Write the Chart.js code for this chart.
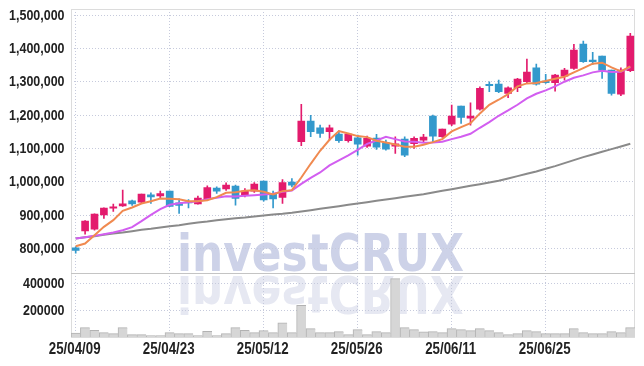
<!DOCTYPE html>
<html>
<head>
<meta charset="utf-8">
<script src="https://cdn.jsdelivr.net/npm/chart.js@4.4.1/dist/chart.umd.min.js"></script>
<style>
  html, body { margin: 0; padding: 0; background: #fff; }
  #wrap { position: relative; width: 644px; height: 366px; }
</style>
</head>
<body>
<div id="wrap"><canvas id="grafico"></canvas></div>
<script>
// ======================= DATA =======================
const dates = [
    '25/04/09', '25/04/10', '25/04/11', '25/04/14', '25/04/15', '25/04/16', '25/04/17', '25/04/18', '25/04/21', '25/04/22',
    '25/04/23', '25/04/24', '25/04/25', '25/04/28', '25/04/29', '25/04/30', '25/05/02', '25/05/07', '25/05/08', '25/05/09',
    '25/05/12', '25/05/13', '25/05/14', '25/05/15', '25/05/16', '25/05/19', '25/05/20', '25/05/21', '25/05/22', '25/05/23',
    '25/05/26', '25/05/27', '25/05/28', '25/05/29', '25/05/30', '25/06/02', '25/06/04', '25/06/05', '25/06/09', '25/06/10',
    '25/06/11', '25/06/12', '25/06/13', '25/06/16', '25/06/17', '25/06/18', '25/06/19', '25/06/20', '25/06/23', '25/06/24',
    '25/06/25', '25/06/26', '25/06/27', '25/06/30', '25/07/01', '25/07/02', '25/07/03', '25/07/04', '25/07/07', '25/07/08',
];

const opens = [
    802000, 853000, 858000, 901000, 921000, 928000, 943000, 939000, 961000, 958000,
    972000, 937000, 940000, 934000, 949000, 981000, 979000, 987000, 960000, 972000,
    1002000, 965000, 953000, 999000, 1120000, 1182000, 1162000, 1150000, 1143000, 1123000,
    1132000, 1107000, 1131000, 1117000, 1107000, 1128000, 1114000, 1125000, 1197000, 1135000,
    1173000, 1227000, 1191000, 1218000, 1292000, 1293000, 1265000, 1282000, 1300000, 1342000,
    1302000, 1297000, 1317000, 1340000, 1413000, 1365000, 1377000, 1335000, 1263000, 1333000,
];
const highs = [
    805000, 884000, 904000, 922000, 933000, 975000, 945000, 963000, 967000, 972000,
    972000, 949000, 947000, 957000, 988000, 985000, 997000, 990000, 980000, 998000,
    1002000, 972000, 1007000, 1010000, 1232000, 1199000, 1170000, 1170000, 1153000, 1143000,
    1140000, 1137000, 1142000, 1125000, 1135000, 1135000, 1135000, 1142000, 1200000, 1158000,
    1230000, 1227000, 1237000, 1285000, 1300000, 1305000, 1285000, 1310000, 1368000, 1353000,
    1322000, 1322000, 1340000, 1412000, 1422000, 1388000, 1377000, 1335000, 1342000, 1445000,
];
const lows = [
    786000, 843000, 855000, 890000, 911000, 926000, 929000, 937000, 935000, 950000,
    926000, 905000, 922000, 933000, 948000, 965000, 974000, 930000, 955000, 968000,
    942000, 922000, 935000, 985000, 1108000, 1135000, 1133000, 1125000, 1118000, 1119000,
    1080000, 1103000, 1097000, 1095000, 1085000, 1075000, 1100000, 1120000, 1120000, 1133000,
    1168000, 1175000, 1170000, 1215000, 1270000, 1267000, 1252000, 1270000, 1295000, 1290000,
    1295000, 1272000, 1305000, 1337000, 1358000, 1352000, 1310000, 1260000, 1258000, 1330000,
];
const closes = [
    794000, 882000, 903000, 921000, 925000, 934000, 934000, 963000, 955000, 965000,
    926000, 929000, 937000, 951000, 983000, 972000, 990000, 950000, 972000, 993000,
    946000, 949000, 998000, 990000, 1182000, 1150000, 1145000, 1162000, 1123000, 1143000,
    1113000, 1130000, 1104000, 1098000, 1114000, 1080000, 1130000, 1134000, 1137000, 1158000,
    1197000, 1193000, 1197000, 1280000, 1288000, 1270000, 1282000, 1308000, 1329000, 1293000,
    1297000, 1320000, 1335000, 1395000, 1360000, 1360000, 1335000, 1265000, 1335000, 1437000,
];

// médias móveis
const ma5 = [
    807000, 815000, 840000, 865000, 885000, 913000, 923000, 935000, 942000, 950000,
    949000, 948000, 942000, 942000, 945000, 954000, 967000, 969000, 973000, 975000,
    970000, 962000, 972000, 975000, 1013000, 1054000, 1093000, 1126000, 1152000, 1145000,
    1137000, 1134000, 1123000, 1118000, 1112000, 1105000, 1105000, 1111000, 1119000, 1128000,
    1151000, 1164000, 1176000, 1205000, 1231000, 1246000, 1263000, 1286000, 1295000, 1296000,
    1302000, 1309000, 1315000, 1328000, 1341000, 1354000, 1357000, 1343000, 1331000, 1346000,
];
const ma10 = [
    830000, 834000, 838000, 843000, 848000, 855000, 864000, 882000, 901000, 918000,
    931000, 936000, 939000, 942000, 948000, 952000, 957000, 956000, 958000, 960000,
    962000, 964000, 970000, 974000, 994000, 1012000, 1028000, 1049000, 1064000, 1079000,
    1096000, 1114000, 1124000, 1135000, 1128000, 1121000, 1120000, 1117000, 1118000, 1120000,
    1128000, 1135000, 1144000, 1162000, 1179000, 1198000, 1214000, 1231000, 1250000, 1264000,
    1274000, 1286000, 1300000, 1312000, 1319000, 1328000, 1333000, 1329000, 1330000, 1344000,
];
const ma60 = [
    830000, 834000, 837000, 841000, 845000, 848000, 852000, 856000, 859000, 863000,
    867000, 870000, 874000, 878000, 881000, 885000, 888000, 891000, 893000, 896000,
    899000, 902000, 904000, 907000, 911000, 915000, 919000, 923000, 927000, 931000,
    935000, 939000, 943000, 947000, 951000, 955000, 959000, 963000, 968000, 973000,
    978000, 983000, 988000, 993000, 998000, 1003000, 1010000, 1017000, 1024000, 1031000,
    1039000, 1047000, 1056000, 1065000, 1074000, 1082000, 1090000, 1098000, 1106000, 1114000,
];

const volumes = [
    30000, 70000, 50000, 33000, 25000, 70000, 18000, 18000, 10000, 10000,
    33000, 25000, 25000, 10000, 43000, 10000, 25000, 70000, 50000, 33000,
    48000, 33000, 106000, 33000, 237000, 63000, 33000, 33000, 40000, 18000,
    55000, 18000, 40000, 33000, 437000, 70000, 55000, 38000, 40000, 33000,
    63000, 55000, 48000, 63000, 48000, 33000, 18000, 25000, 48000, 40000,
    25000, 25000, 25000, 63000, 33000, 25000, 25000, 40000, 33000, 70000,
];

const priceTicks = [800000, 900000, 1000000, 1100000, 1200000, 1300000, 1400000, 1500000];
const volumeTicks = [200000, 400000];

// ======================= ESTILO =======================
const UP = '#e31b6d';
const DOWN = '#3399cc';
const GRID = '#c6cadc';
const LABEL_FONT = "'Liberation Sans', Arial, sans-serif";

const candleColor = (c) => (closes[c.dataIndex] >= opens[c.dataIndex] ? UP : DOWN);

// marca d'água com reflexo
const watermark = {
    id: 'watermark',
    beforeDraw(chart) {
        const { ctx } = chart;
        const base = chart.scales.y.bottom;
        ctx.save();
        ctx.font = "bold 51px 'DejaVu Sans'";
        ctx.textBaseline = 'alphabetic';
        ctx.fillStyle = '#cdd2e8';
        ctx.fillText('investCRUX', 177, base - 2, 287);
        ctx.translate(0, base * 2 + 1);
        ctx.scale(1, -1);
        ctx.fillStyle = '#e6e8f2';
        ctx.fillText('investCRUX', 177, base - 2, 287);
        ctx.restore();
    },
};

// moldura e divisória dos painéis
const frame = {
    id: 'frame',
    beforeDatasetsDraw(chart) {
        const { ctx, chartArea } = chart;
        ctx.save();
        ctx.strokeStyle = '#dcdcdc';
        ctx.lineWidth = 1;
        ctx.strokeRect(Math.round(chartArea.left) + 0.5, Math.round(chartArea.top) + 0.5,
            Math.round(chartArea.right - chartArea.left) - 1, Math.round(chartArea.bottom - chartArea.top));
        const sep = Math.round(chart.scales.y.bottom) + 0.5;
        ctx.strokeStyle = '#c4c4c4';
        ctx.beginPath();
        ctx.moveTo(chartArea.left, sep);
        ctx.lineTo(chartArea.right, sep);
        ctx.stroke();
        ctx.restore();
    },
};

// rótulos dos eixos em fonte estreita (texto comprimido na horizontal)
function drawNarrow(ctx, text, x, y, size, squeeze, align) {
    ctx.save();
    ctx.font = `bold ${size}px ${LABEL_FONT}`;
    ctx.textAlign = align;
    ctx.textBaseline = 'middle';
    ctx.translate(x, y);
    ctx.scale(squeeze, 1);
    ctx.fillText(text, 0, 0);
    ctx.restore();
}

const axisLabels = {
    id: 'axisLabels',
    afterDraw(chart) {
        const { ctx, scales } = chart;
        ctx.save();
        ctx.fillStyle = '#222';
        ['y', 'yv'].forEach((id) => {
            const sc = scales[id];
            sc.ticks.forEach((t) => {
                drawNarrow(ctx, t.label, sc.right - 6.5, sc.getPixelForValue(t.value) + 0.5, 15, 0.83, 'right');
            });
        });
        const sx = scales.x;
        sx.ticks.forEach((t, i) => {
            if (!t.label) return;
            drawNarrow(ctx, t.label, sx.getPixelForTick(i) - 1, sx.top + 12.5, 16, 0.83, 'center');
        });
        ctx.restore();
    },
};

function montarGrafico() {
    const canvas = document.getElementById('grafico');
    if (!canvas || typeof Chart === 'undefined') return;

    new Chart(canvas.getContext('2d'), {
        data: {
            labels: dates,
            datasets: [
                { type: 'line', label: 'MA5', data: ma5, yAxisID: 'y', borderColor: '#f08a50', borderWidth: 2, pointRadius: 0, order: 1 },
                { type: 'line', label: 'MA10', data: ma10, yAxisID: 'y', borderColor: '#d25ef0', borderWidth: 2, pointRadius: 0, order: 1 },
                { type: 'line', label: 'MA60', data: ma60, yAxisID: 'y', borderColor: '#8a8a8a', borderWidth: 2, pointRadius: 0, order: 1 },
                {
                    type: 'bar', label: 'wick', yAxisID: 'y', order: 2, grouped: false,
                    data: lows.map((l, i) => [l, highs[i]]),
                    backgroundColor: candleColor, barThickness: 1,
                },
                {
                    type: 'bar', label: 'body', yAxisID: 'y', order: 2, grouped: false,
                    data: opens.map((o, i) => [o, closes[i]]),
                    backgroundColor: candleColor, barThickness: 7,
                },
                {
                    type: 'bar', label: 'volume', yAxisID: 'yv', order: 3, grouped: false,
                    data: volumes,
                    backgroundColor: '#d6d6d6', borderColor: '#b2b2b2',
                    borderWidth: { top: 1, left: 1, right: 0, bottom: 0 },
                    barPercentage: 1, categoryPercentage: 1,
                },
            ],
        },
        options: {
            responsive: true,
            maintainAspectRatio: false,
            animation: false,
            layout: { padding: { top: 9, right: 9, left: 0, bottom: 0 } },
            plugins: { legend: { display: false }, tooltip: { enabled: false } },
            scales: {
                x: {
                    offset: true,
                    grid: {
                        offset: false,
                        drawTicks: false,
                        color: (c) => (c.index % 10 === 0 ? GRID : 'transparent'),
                    },
                    border: { display: false, dash: [1, 2] },
                    ticks: {
                        display: false,
                        autoSkip: false,
                        maxRotation: 0,
                        callback: (v, i) => (i % 10 === 0 ? dates[i] : ''),
                    },
                    afterFit: (axis) => { axis.height = 29; },
                },
                yv: {
                    type: 'linear',
                    position: 'left',
                    stack: 'painel',
                    stackWeight: 1,
                    min: 0,
                    max: 482000,
                    grid: { color: GRID, drawTicks: false },
                    border: { display: false, dash: [1, 2] },
                    ticks: { display: false, autoSkip: false, callback: (v) => String(v) },
                    afterBuildTicks: (axis) => { axis.ticks = volumeTicks.map((v) => ({ value: v })); },
                    afterFit: (axis) => { axis.width = 71; },
                },
                y: {
                    type: 'linear',
                    position: 'left',
                    stack: 'painel',
                    stackWeight: 4.09,
                    min: 728000,
                    max: 1518000,
                    grid: { color: GRID, drawTicks: false },
                    border: { display: false, dash: [1, 2] },
                    ticks: { display: false, autoSkip: false, callback: (v) => Number(v).toLocaleString('en-US') },
                    afterBuildTicks: (axis) => { axis.ticks = priceTicks.map((v) => ({ value: v })); },
                    afterFit: (axis) => { axis.width = 71; },
                },
            },
        },
        plugins: [watermark, frame, axisLabels],
    });
}

document.addEventListener('DOMContentLoaded', montarGrafico);
</script>
</body>
</html>
